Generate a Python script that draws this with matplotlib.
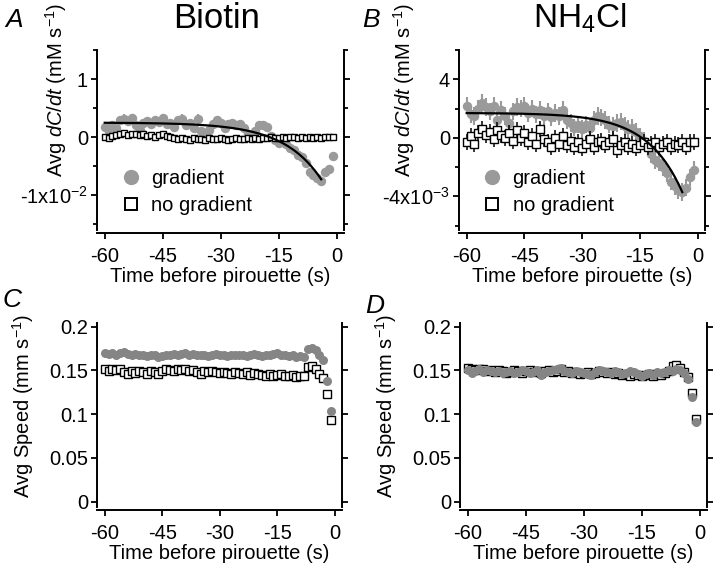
import numpy as np
import matplotlib
matplotlib.use("Agg")
import matplotlib.pyplot as plt
from matplotlib.ticker import MultipleLocator

plt.rcParams['font.family'] = ['Liberation Sans', 'DejaVu Sans']
plt.rcParams['axes.unicode_minus'] = False
plt.rcParams['mathtext.fontset'] = 'custom'
plt.rcParams['mathtext.rm'] = 'Liberation Sans'
plt.rcParams['mathtext.it'] = 'Liberation Sans:italic'
plt.rcParams['mathtext.default'] = 'regular'

# time bins before the pirouette (s)
time_s = np.arange(-60, 0)

# A: biotin, dC/dt in units of 1e-2 mM/s
biotin_grad = [0.18, 0.10, 0.20, 0.15, 0.30, 0.32, 0.28, 0.33, 0.20, 0.12,
               0.25, 0.28, 0.22, 0.30, 0.26, 0.33, 0.22, 0.25, 0.18, 0.30,
               0.32, 0.20, 0.25, 0.15, 0.32, 0.10, 0.05, 0.12, 0.22, 0.30,
               0.25, 0.15, 0.22, 0.25, 0.20, 0.22, 0.15, 0.05, 0.02, 0.10,
               0.20, 0.20, 0.18, 0.02, -0.05, -0.10, -0.05, -0.12, -0.18, -0.22,
               -0.30, -0.35, -0.45, -0.60, -0.65, -0.70, -0.75, -0.60, -0.55, -0.33]
biotin_nograd = [0.00, -0.02, 0.02, 0.03, 0.05, 0.07, 0.04, 0.06, 0.05, 0.03,
                 0.05, 0.02, 0.04, 0.01, 0.03, 0.05, 0.02, 0.00, -0.02, -0.04,
                 -0.01, -0.03, -0.05, -0.02, -0.04, -0.03, -0.05, -0.02, -0.04, -0.03,
                 -0.02, -0.04, -0.05, -0.03, -0.02, -0.04, -0.03, -0.01, -0.04, -0.02,
                 -0.03, -0.01, -0.02, 0.00, -0.02, -0.01, 0.01, -0.02, 0.00, 0.01,
                 -0.01, 0.00, -0.02, 0.00, -0.01, 0.01, -0.01, 0.00, 0.01, 0.00]
biotin_grad_sem = 0.07
biotin_fit = {'offset': 0.25, 'amp': 1.47, 'tau': 9.8, 't_end': -4}

# B: NH4Cl, dC/dt in units of 1e-3 mM/s
nh4cl_grad = [2.2, 1.6, 1.5, 2.0, 2.4, 2.1, 1.8, 2.2, 1.2, 1.9,
              1.5, 1.0, 1.8, 2.1, 2.0, 2.2, 1.7, 2.0, 1.6, 1.9,
              1.5, 1.8, 1.4, 1.7, 1.5, 1.9, 1.2, 1.0, 0.7, 0.9,
              0.6, 0.9, 0.7, 1.2, 1.5, 1.4, 1.2, 0.9, 0.8, 1.0,
              1.1, 0.8, 0.6, 0.7, 0.4, 0.1, -0.2, -0.6, -1.1, -1.5,
              -1.7, -2.0, -2.4, -3.0, -3.3, -3.6, -3.7, -3.4, -2.7, -2.2]
nh4cl_nograd = [-0.3, 0.1, -0.4, 0.3, 0.6, 0.2, 0.4, -0.1, 0.5, 0.2,
                0.0, 0.3, -0.2, 0.5, 0.0, 0.3, -0.3, 0.1, -0.4, 0.6,
                -0.1, -0.3, -0.6, 0.0, -0.4, 0.1, -0.5, -0.2, -0.6, -0.3,
                -0.7, -0.4, -0.1, -0.6, -0.3, -0.2, -0.5, -0.3, -0.1, -0.8,
                -0.5, -0.3, -0.6, -0.4, -0.7, -0.5, -0.3, -0.6, -0.4, -0.3,
                -0.6, -0.4, -0.3, -0.6, -0.4, -0.5, -0.3, -0.6, -0.3, -0.3]
nh4cl_grad_sem = 0.6
nh4cl_nograd_sem = 0.55
nh4cl_fit = {'offset': 1.7, 'amp': 8.4, 'tau': 9.1, 't_end': -4}

# C: biotin, speed (mm/s)
biotin_speed_grad = [0.170, 0.169, 0.170, 0.168, 0.170, 0.171, 0.169, 0.168, 0.169, 0.167,
                     0.168, 0.166, 0.168, 0.167, 0.165, 0.166, 0.168, 0.167, 0.169, 0.168,
                     0.169, 0.170, 0.168, 0.169, 0.167, 0.168, 0.167, 0.166, 0.168, 0.169,
                     0.167, 0.168, 0.166, 0.167, 0.168, 0.167, 0.168, 0.166, 0.168, 0.169,
                     0.167, 0.166, 0.168, 0.167, 0.169, 0.170, 0.167, 0.168, 0.166, 0.167,
                     0.165, 0.166, 0.165, 0.174, 0.176, 0.173, 0.167, 0.162, 0.138, 0.103]
biotin_speed_nograd = [0.152, 0.149, 0.151, 0.150, 0.152, 0.148, 0.146, 0.149, 0.147, 0.149,
                       0.148, 0.146, 0.149, 0.148, 0.146, 0.149, 0.151, 0.150, 0.149, 0.151,
                       0.150, 0.151, 0.149, 0.150, 0.148, 0.146, 0.149, 0.148, 0.149, 0.148,
                       0.147, 0.148, 0.147, 0.146, 0.148, 0.147, 0.146, 0.148, 0.145, 0.147,
                       0.146, 0.145, 0.143, 0.146, 0.144, 0.145, 0.146, 0.144, 0.143, 0.145,
                       0.142, 0.144, 0.143, 0.154, 0.155, 0.152, 0.146, 0.141, 0.123, 0.093]

# D: NH4Cl, speed (mm/s)
nh4cl_speed_grad = [0.150, 0.147, 0.149, 0.151, 0.148, 0.150, 0.149, 0.148, 0.149, 0.147,
                    0.148, 0.149, 0.147, 0.148, 0.150, 0.149, 0.147, 0.148, 0.150, 0.145,
                    0.148, 0.149, 0.150, 0.151, 0.153, 0.149, 0.148, 0.147, 0.149, 0.148,
                    0.147, 0.146, 0.145, 0.148, 0.150, 0.149, 0.148, 0.147, 0.149, 0.148,
                    0.146, 0.147, 0.149, 0.148, 0.146, 0.144, 0.146, 0.147, 0.145, 0.148,
                    0.147, 0.148, 0.150, 0.149, 0.152, 0.150, 0.147, 0.140, 0.120, 0.091]
nh4cl_speed_nograd = [0.153, 0.151, 0.150, 0.152, 0.151, 0.149, 0.150, 0.148, 0.150, 0.149,
                      0.147, 0.148, 0.150, 0.149, 0.147, 0.149, 0.150, 0.148, 0.149, 0.147,
                      0.149, 0.150, 0.148, 0.149, 0.151, 0.148, 0.149, 0.147, 0.148, 0.146,
                      0.147, 0.148, 0.146, 0.147, 0.149, 0.148, 0.147, 0.148, 0.146, 0.147,
                      0.145, 0.146, 0.144, 0.146, 0.145, 0.143, 0.145, 0.146, 0.144, 0.146,
                      0.145, 0.147, 0.149, 0.155, 0.156, 0.153, 0.148, 0.142, 0.124, 0.094]

x_ticks = [-60, -45, -30, -15, 0]

GRAY = '#9a9a9a'
DARK_GRAY = '#858585'
W, H = 720, 569


def px_axes(fig, x0, y0, x1, y1):
    return fig.add_axes([x0 / W, 1 - y1 / H, (x1 - x0) / W, (y1 - y0) / H])


def style(ax, ylim, yticks, yticklabels, minor=None):
    ax.set_xlim(-62, 1.9)
    ax.set_ylim(*ylim)
    ax.set_xticks(x_ticks)
    ax.set_xticklabels([str(v) for v in x_ticks])
    ax.set_yticks(yticks)
    ax.set_yticklabels(yticklabels)
    if minor is not None:
        ax.yaxis.set_minor_locator(MultipleLocator(minor))
    ax.spines['top'].set_visible(False)
    ax.spines['bottom'].set_position(('outward', 2.5))
    for s in ['left', 'right', 'bottom']:
        ax.spines[s].set_linewidth(1.4)
    ax.tick_params(axis='y', which='both', right=True, labelright=False,
                   direction='out', width=1.3)
    ax.tick_params(axis='y', which='major', length=4.5, pad=2)
    ax.tick_params(axis='y', which='minor', length=3.2)
    ax.tick_params(axis='x', direction='out', length=4.5, width=1.3, pad=5)
    ax.tick_params(labelsize=14.5)
    ax.set_xlabel('Time before pirouette (s)', fontsize=14.5, labelpad=1)


def fit_curve(p):
    t = np.linspace(-60, p['t_end'], 200)
    return t, p['offset'] - p['amp'] * np.exp(t / p['tau'])


def add_legend(ax):
    leg = ax.legend(frameon=False, loc='upper left', bbox_to_anchor=(0.095, 0.34),
                    numpoints=1, handlelength=1.0, handletextpad=0.5,
                    labelspacing=0.42, fontsize=14.5, borderpad=0, borderaxespad=0)
    hs = leg.legend_handles
    hs[0].set_markersize(11)
    hs[1].set_markersize(8.5)
    hs[1].set_markeredgewidth(1.4)


fig = plt.figure(figsize=(7.2, 5.69), dpi=100)

# ---- A: Biotin dC/dt
axA = px_axes(fig, 97, 50, 344, 230)
axA.errorbar(time_s, biotin_grad, yerr=biotin_grad_sem, fmt='none',
             ecolor=GRAY, elinewidth=1.5, zorder=1)
axA.plot(time_s, biotin_grad, 'o', color=GRAY, ms=6.8, mec='none',
         label='gradient', zorder=2)
axA.plot(time_s, biotin_nograd, 's', color='white', mec='black', mew=1.0,
         ms=4.6, label='no gradient', zorder=3)
tf, yf = fit_curve(biotin_fit)
axA.plot(tf, yf, color='black', lw=1.6, zorder=4)
style(axA, (-1.6, 1.5), [-1, 0, 1], ['-1x10$^{-2}$', '0', '1'], minor=0.5)
axA.set_ylabel('Avg $\\mathit{dC/dt}$ (mM s$^{-1}$)', fontsize=14.5)
axA.yaxis.set_label_coords(-0.115, 0.78)
add_legend(axA)

# ---- B: NH4Cl dC/dt
axB = px_axes(fig, 459, 50, 705, 230)
axB.errorbar(time_s, nh4cl_grad, yerr=nh4cl_grad_sem, fmt='none',
             ecolor=GRAY, elinewidth=1.5, zorder=1)
axB.plot(time_s, nh4cl_grad, 'o', color=GRAY, ms=6.8, mec='none',
         label='gradient', zorder=2)
axB.errorbar(time_s, nh4cl_nograd, yerr=nh4cl_nograd_sem, fmt='none',
             ecolor='black', elinewidth=1.1, zorder=3)
axB.plot(time_s, nh4cl_nograd, 's', color='white', mec='black', mew=1.0,
         ms=5.2, label='no gradient', zorder=3)
tf, yf = fit_curve(nh4cl_fit)
axB.plot(tf, yf, color='black', lw=1.6, zorder=4)
style(axB, (-6.3, 6.0), [-4, 0, 4], ['-4x10$^{-3}$', '0', '4'], minor=2)
axB.set_ylabel('Avg $\\mathit{dC/dt}$ (mM s$^{-1}$)', fontsize=14.5)
axB.yaxis.set_label_coords(-0.17, 0.78)
add_legend(axB)

# ---- C: Biotin speed
axC = px_axes(fig, 97, 323, 342, 507)
axC.plot(time_s, biotin_speed_nograd, 's', color='white', mec='black', mew=1.0,
         ms=5.2, zorder=2)
axC.plot(time_s, biotin_speed_grad, 'o', color=DARK_GRAY, ms=6.5, mec='none',
         zorder=3)
style(axC, (-0.006, 0.204), [0, 0.05, 0.1, 0.15, 0.2],
      ['0', '0.05', '0.1', '0.15', '0.2'])
axC.set_ylabel('Avg Speed (mm s$^{-1}$)', fontsize=14.5)
axC.yaxis.set_label_coords(-0.25, 0.55)

# ---- D: NH4Cl speed
axD = px_axes(fig, 460, 323, 707, 507)
axD.plot(time_s, nh4cl_speed_nograd, 's', color='white', mec='black', mew=1.0,
         ms=5.2, zorder=2)
axD.plot(time_s, nh4cl_speed_grad, 'o', color=DARK_GRAY, ms=6.5, mec='none',
         zorder=3)
style(axD, (-0.006, 0.204), [0, 0.05, 0.1, 0.15, 0.2],
      ['0', '0.05', '0.1', '0.15', '0.2'])
axD.set_ylabel('Avg Speed (mm s$^{-1}$)', fontsize=14.5)
axD.yaxis.set_label_coords(-0.245, 0.55)

# titles and panel letters
fig.text(217 / W, 1 - 28 / H, 'Biotin', fontsize=25, ha='center', va='baseline')
fig.text(580 / W, 1 - 28 / H, 'NH$_4$Cl', fontsize=24, ha='center', va='baseline')
for letter, x, y in [('A', 5, 27), ('B', 362, 27), ('C', 3, 307), ('D', 365, 313)]:
    fig.text(x / W, 1 - y / H, letter, fontsize=19, style='italic',
             ha='left', va='baseline')

fig.savefig('out.png', dpi=100)
